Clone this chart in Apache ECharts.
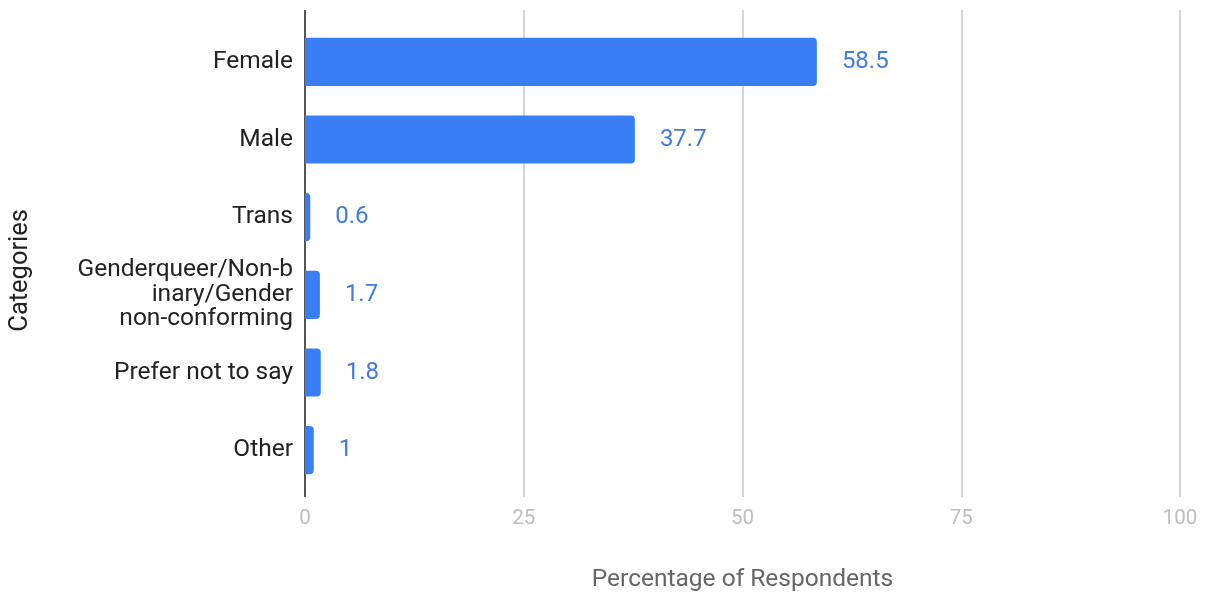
<!DOCTYPE html>
<html>
<head>
<meta charset="utf-8">
<script src="https://cdn.jsdelivr.net/npm/echarts@6/dist/echarts.min.js"></script>
<style>html,body{margin:0;padding:0;background:#fff}#c{width:1207px;height:597px}</style>
</head>
<body>
<div id="c"></div>
<script>
const categories = ['Female', 'Male', 'Trans', 'Genderqueer/Non-b\ninary/Gender\nnon-conforming', 'Prefer not to say', 'Other'];
const values = [58.5, 37.7, 0.6, 1.7, 1.8, 1];
const xTicks = [0, 25, 50, 75, 100];

const chart = echarts.init(document.getElementById('c'));
chart.setOption({
  animation: false,
  textStyle: { fontFamily: 'Roboto' },
  grid: [
    { left: 305, right: 27, top: 23, bottom: 108 },
    { left: 305, right: 27, top: 10, bottom: 95 }
  ],
  xAxis: [
    { gridIndex: 0, type: 'value', min: 0, max: 100, interval: 25,
      axisLine: { show: false }, axisTick: { show: false }, axisLabel: { show: false }, splitLine: { show: false } },
    { gridIndex: 1, type: 'value', min: xTicks[0], max: xTicks[xTicks.length - 1], interval: 25,
      axisLine: { show: false }, axisTick: { show: false },
      axisLabel: { color: '#bdbdbd', fontSize: 20.5, margin: 11 },
      splitLine: { show: true, lineStyle: { color: ['#555555', '#d6d6d6', '#d6d6d6', '#d6d6d6', '#d6d6d6'], width: 2 } },
      name: 'Percentage of Respondents', nameLocation: 'middle', nameGap: 70,
      nameTextStyle: { color: '#666', fontSize: 24.5 } }
  ],
  yAxis: [
    { gridIndex: 0, type: 'category', data: categories, inverse: true,
      axisLine: { show: false }, axisTick: { show: false },
      axisLabel: { color: '#222', fontSize: 24.5, margin: 12, lineHeight: 24.5, align: 'right' } },
    { gridIndex: 1, type: 'category', data: categories, show: false }
  ],
  graphic: [
    { type: 'text', left: 8, top: 209, rotation: Math.PI / 2,
      style: { text: 'Categories', fill: '#222', fontSize: 25.5, fontFamily: 'Roboto' } }
  ],
  series: [
    { type: 'bar', xAxisIndex: 0, yAxisIndex: 0, data: values, barCategoryGap: '38%',
      itemStyle: { color: '#3a7ef5', borderRadius: [0, 4, 4, 0] },
      label: { show: true, position: 'right', distance: 25, color: '#3f7be2', fontSize: 24 } }
  ]
});
</script>
</body>
</html>
